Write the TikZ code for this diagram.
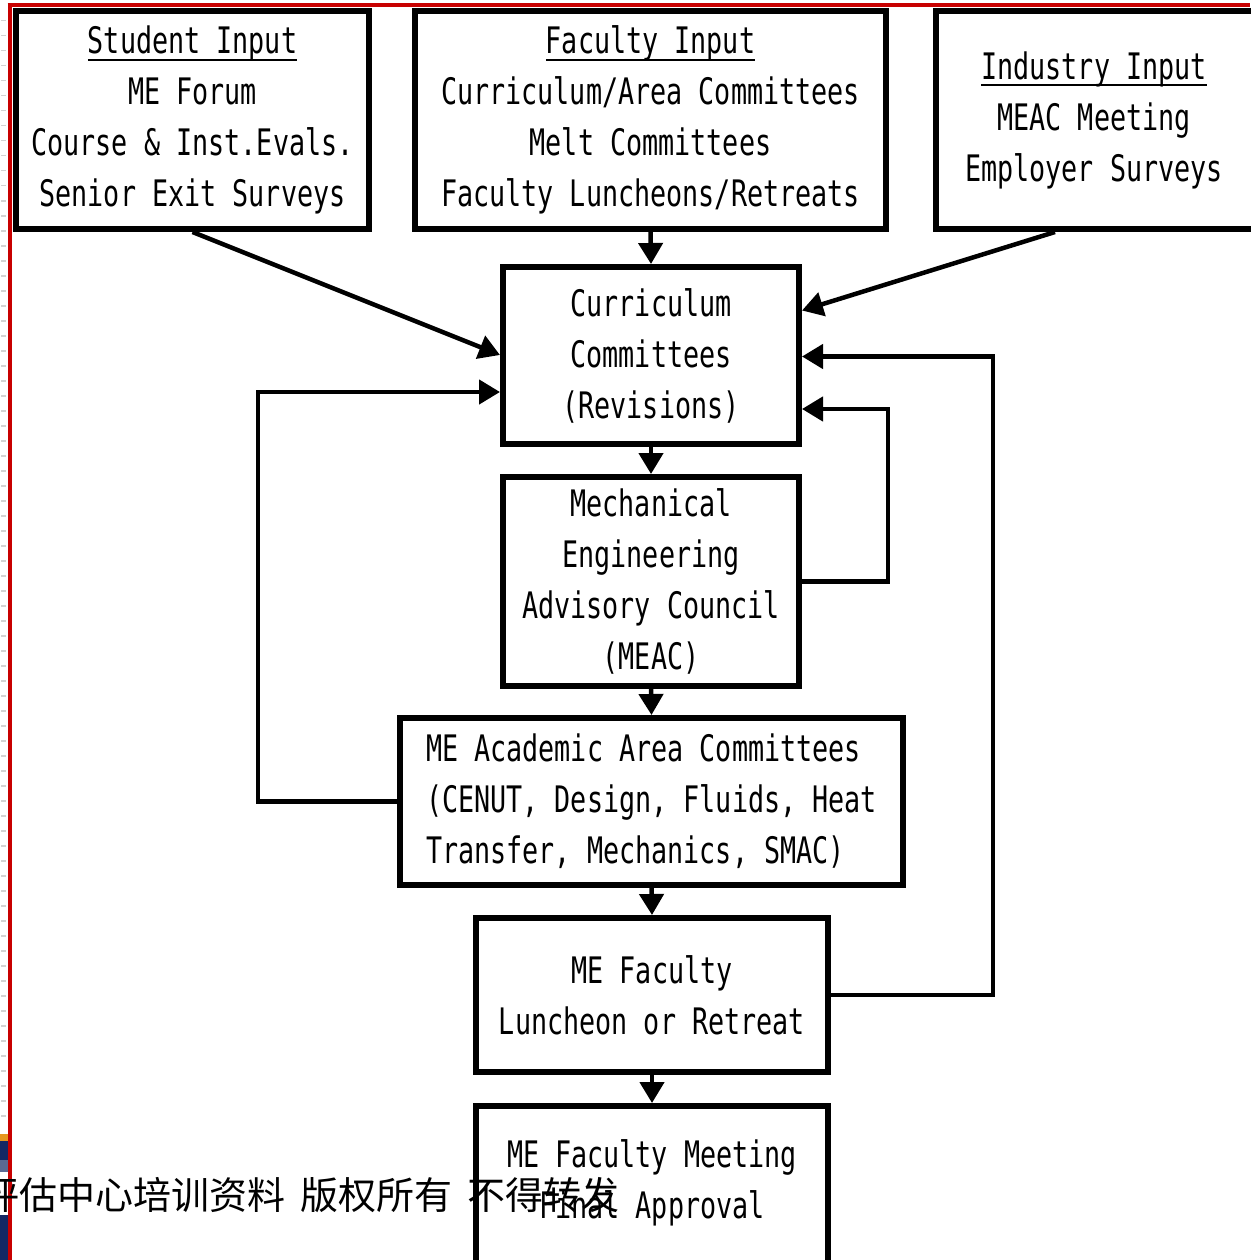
\documentclass[tikz,border=0pt]{standalone}
\usepackage{fontspec}
\setmainfont{DejaVu Sans Mono}[FakeStretch=0.733]
\newfontfamily\cjk{Noto Sans CJK SC}
\usetikzlibrary{arrows.meta,calc}
\definecolor{framered}{RGB}{200,0,0}
\definecolor{slidenavy}{RGB}{20,40,100}
\definecolor{slideorange}{RGB}{230,150,30}
\newcommand\myul[1]{\setbox0\hbox{#1}\rlap{\rule[-7pt]{\wd0}{2pt}}\box0}
\tikzset{
  box/.style={draw=black, line width=6pt, fill=white, rectangle, inner sep=0pt,
    align=center, font=\fontsize{36.5}{51}\selectfont},
  arr/.style={line width=4.5pt, -{Triangle[length=21pt,width=24pt]}},
}
\begin{document}
\begin{tikzpicture}[x=1pt,y=-1pt]
\useasboundingbox (0,0) rectangle (1250,1260);
\fill[white] (0,0) rectangle (1250,1260);
% slide remnants on the left edge
\draw[gray!35, line width=5pt, dash pattern=on 1.5pt off 13.5pt] (3.5,20) -- (3.5,1128);
\fill[slideorange] (0,1134) rectangle (8,1141);
\fill[slidenavy] (0,1141) rectangle (8,1160);
\fill[slidenavy!70] (0,1160) rectangle (8,1172);
\fill[slidenavy] (0,1215) rectangle (8,1260);
% red frame
\draw[framered, line width=4pt] (7.5,5.3) -- (1250,5.3);
\draw[framered, line width=4pt] (9.5,3.3) -- (9.5,1260);

% boxes
\node[box, minimum width=353, minimum height=218] (student) at (192.5,120)
  {\myul{Student Input}\\ME Forum\\Course \& Inst.Evals.\\Senior Exit Surveys};
\node[box, minimum width=471, minimum height=218] (faculty) at (650.5,120)
  {\myul{Faculty Input}\\Curriculum/Area Committees\\Melt Committees\\Faculty Luncheons/Retreats};
\node[box, minimum width=320, minimum height=218] (industry) at (1096,120) {};
\node[font=\fontsize{36.5}{51}\selectfont, align=center] (industrytxt) at (1094,120)
  {\myul{Industry Input}\\MEAC Meeting\\Employer Surveys};
\node[box, minimum width=296, minimum height=177] (curr) at (651,355.5)
  {Curriculum\\Committees\\(Revisions)};
\node[box, minimum width=296, minimum height=209] (meac) at (651,581.5)
  {Mechanical\\Engineering\\Advisory Council\\(MEAC)};
\node[box, minimum width=503, minimum height=167, align=left] (acad) at (651.5,801.5)
  {ME Academic Area Committees\\(CENUT, Design, Fluids, Heat\\Transfer, Mechanics, SMAC)};
\node[box, minimum width=352, minimum height=154] (lunch) at (652,995)
  {ME Faculty\\Luncheon or Retreat};
\node[box, minimum width=352, minimum height=174] (meet) at (652,1193) {};
\node[font=\fontsize{36.5}{51}\selectfont, align=center] (meettxt) at (652,1183)
  {ME Faculty Meeting\\Final Approval};

% connectors
\draw[arr] (faculty.south) -- (curr.north);
\draw[arr] (student.south) -- ($(curr.west)+(0,-0.5)$);
\draw[arr] ($(industry.south)+(-41,0)$) -- ($(curr.east)+(0,-45)$);
\draw[arr] (curr.south) -- (meac.north);
\draw[arr] (meac.south) -- (acad.north);
\draw[arr] (acad.south) -- (lunch.north);
\draw[arr] (lunch.south) -- (meet.north);
\coordinate (lturn) at (258,801.5);
\draw[arr] (acad.west) -- (lturn) |- ($(curr.west)+(0,36.5)$);
\coordinate (rturn1) at (888,581.5);
\draw[arr] (meac.east) -- (rturn1) |- ($(curr.east)+(0,53.5)$);
\coordinate (rturn2) at (993,995);
\draw[arr] (lunch.east) -- (rturn2) |- ($(curr.east)+(0,1)$);

% watermark
\node[anchor=base west, inner sep=0pt, font=\cjk\fontsize{38}{42}\selectfont] (wm) at (-19,1209)
  {评估中心培训资料\hspace{15pt}版权所有\hspace{15pt}不得转发};
\end{tikzpicture}
\end{document}
